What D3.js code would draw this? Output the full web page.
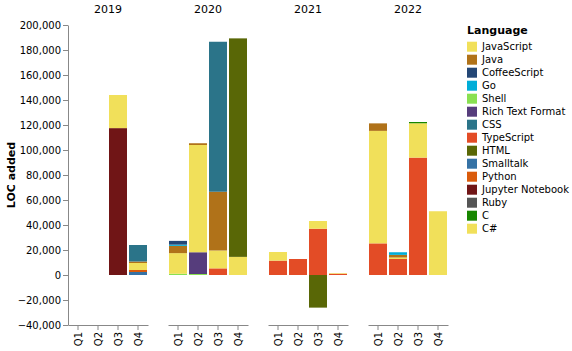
<!DOCTYPE html>
<html>
<head>
<meta charset="utf-8">
<script src="https://cdn.jsdelivr.net/npm/d3@7"></script>
<style>
  body { margin: 0; background: #fff; }
  text { font-family: "DejaVu Sans", sans-serif; }
</style>
</head>
<body>
<div id="chart"></div>
<script>
const years = ['2019', '2020', '2021', '2022'];
const quarters = ['Q1', 'Q2', 'Q3', 'Q4'];
const languages = ['JavaScript', 'Java', 'CoffeeScript', 'Go', 'Shell', 'Rich Text Format', 'CSS',
  'TypeScript', 'HTML', 'Smalltalk', 'Python', 'Jupyter Notebook', 'Ruby', 'C', 'C#'];
const languageColors = ['#f1e05a', '#b07219', '#244776', '#00add8', '#89e051', '#563d7c', '#2b7489',
  '#e34c26', '#596706', '#3572a5', '#da5b0b', '#701516', '#555555', '#178600', '#f1e05a'];
const yTicks = [-40000, -20000, 0, 20000, 40000, 60000, 80000, 100000, 120000, 140000, 160000, 180000, 200000];

// LOC added per quarter, 2019 Q1 ... 2022 Q4
const javaScript = [0, 0, 26500, 5600, 16500, 85800, 14300, 14500, 6900, 0, 6200, 500, 90000, 1200, 27500, 51000];
const java = [0, 0, 0, 1200, 5800, 1400, 47000, 0, 0, 0, 0, 0, 6000, 2100, 0, 0];
const coffeeScript = [0, 0, 0, 0, 3000, 0, 0, 0, 0, 0, 0, 0, 0, 0, 0, 0];
const go = [0, 0, 0, 0, 1000, 0, 0, 0, 0, 0, 0, 0, 0, 2100, 0, 0];
const shell = [0, 0, 0, 0, 1000, 800, 0, 0, 0, 0, 0, 0, 0, 0, 0, 0];
const richTextFormat = [0, 0, 0, 0, 0, 17400, 0, 0, 0, 0, 0, 0, 0, 0, 0, 0];
const css = [0, 0, 0, 13200, 0, 0, 120000, 0, 0, 0, 0, 0, 0, 0, 0, 0];
const typeScript = [0, 0, 0, 0, 0, 0, 5300, 0, 11500, 12800, 37000, 1000, 25300, 12800, 93900, 0];
const html = [0, 0, 0, 0, 0, 0, 0, 174800, 0, 0, -26100, 0, 0, 0, 0, 0];
const smalltalk = [0, 0, 0, 2400, 0, 0, 0, 0, 0, 0, 0, 0, 0, 0, 0, 0];
const python = [0, 0, 0, 1600, 0, 0, 0, 0, 0, 0, 0, 0, 0, 0, 0, 0];
const jupyterNotebook = [0, 0, 117500, 0, 0, 0, 0, 0, 0, 0, 0, 0, 0, 0, 0, 0];
const ruby = [0, 0, 0, 0, 0, 0, 0, 0, 0, 0, 0, 0, 0, 0, 0, 0];
const cLang = [0, 0, 0, 0, 0, 0, 0, 0, 0, 0, 0, 0, 0, 0, 1000, 0];
const cSharp = [0, 0, 0, 0, 0, 0, 0, 0, 0, 0, 0, 0, 0, 0, 0, 0];

const series = [javaScript, java, coffeeScript, go, shell, richTextFormat, css,
  typeScript, html, smalltalk, python, jupyterNotebook, ruby, cLang, cSharp];

const width = 572;
const height = 351;
const plotTop = 25;
const plotBottom = 325;
const panelLeft = 68;
const panelWidth = 80;
const panelStep = 100;

// one row per year/quarter
const rows = [];
years.forEach((year, yi) => {
  quarters.forEach((q, qi) => {
    const row = { year: year, quarter: q };
    languages.forEach((lang, li) => { row[lang] = series[li][yi * 4 + qi]; });
    rows.push(row);
  });
});

// stacking order: descending by name, bottom first
const stackKeys = languages.slice().sort().reverse();

const stacked = d3.stack()
  .keys(stackKeys)
  .offset(d3.stackOffsetDiverging)(rows);

const color = d3.scaleOrdinal().domain(languages).range(languageColors);

const y = d3.scaleLinear()
  .domain([-40000, 200000])
  .range([plotBottom, plotTop]);

const x = d3.scaleBand()
  .domain(quarters)
  .range([0, panelWidth])
  .paddingInner(0.1)
  .paddingOuter(0.05);

const svg = d3.select('#chart').append('svg')
  .attr('width', width)
  .attr('height', height);

// y axis
const yAxis = svg.append('g')
  .attr('transform', `translate(${panelLeft},0)`)
  .call(d3.axisLeft(y).tickValues(yTicks).tickFormat(d3.format(',')).tickSize(5).tickSizeOuter(0).tickPadding(2));
yAxis.selectAll('path, line').attr('stroke', '#888');
yAxis.selectAll('text').attr('font-size', 10).attr('fill', '#000')
  .style('font-family', '"DejaVu Sans", sans-serif');

svg.append('text')
  .attr('transform', 'translate(15,175) rotate(-90)')
  .attr('text-anchor', 'middle')
  .attr('font-size', 11)
  .attr('font-weight', 'bold')
  .text('LOC added');

// facet panels
years.forEach((year, yi) => {
  const px = panelLeft + yi * panelStep;
  const panel = svg.append('g').attr('transform', `translate(${px},0)`);

  panel.append('text')
    .attr('x', panelWidth / 2)
    .attr('y', 13)
    .attr('text-anchor', 'middle')
    .attr('font-size', 11)
    .text(year);

  stacked.forEach(layer => {
    panel.selectAll(null)
      .data(layer.filter(d => d.data.year === year && d[0] !== d[1]))
      .enter()
      .append('rect')
      .attr('x', d => x(d.data.quarter))
      .attr('width', x.bandwidth())
      .attr('y', d => y(Math.max(d[0], d[1])))
      .attr('height', d => Math.abs(y(d[0]) - y(d[1])))
      .attr('fill', color(layer.key));
  });

  const xAxis = panel.append('g')
    .attr('transform', `translate(0,${plotBottom})`)
    .call(d3.axisBottom(x).tickSize(5).tickSizeOuter(0));
  xAxis.selectAll('path, line').attr('stroke', '#888');
  xAxis.selectAll('text')
    .attr('transform', 'rotate(-90)')
    .attr('x', -7)
    .attr('y', 0)
    .attr('dy', '0.35em')
    .attr('text-anchor', 'end')
    .attr('font-size', 10)
    .attr('fill', '#000')
    .style('font-family', '"DejaVu Sans", sans-serif');
});

// legend
const legend = svg.append('g').attr('transform', 'translate(467,0)');

legend.append('text')
  .attr('x', 0)
  .attr('y', 34)
  .attr('font-size', 11)
  .attr('font-weight', 'bold')
  .text('Language');

const entry = legend.selectAll('.entry')
  .data(languages)
  .enter()
  .append('g')
  .attr('class', 'entry')
  .attr('transform', (d, i) => `translate(0,${46.7 + i * 13})`);

entry.append('rect')
  .attr('x', 0)
  .attr('y', -5)
  .attr('width', 10)
  .attr('height', 10)
  .attr('fill', d => color(d));

entry.append('text')
  .attr('x', 15)
  .attr('dy', '0.35em')
  .attr('font-size', 10)
  .text(d => d);
</script>
</body>
</html>
